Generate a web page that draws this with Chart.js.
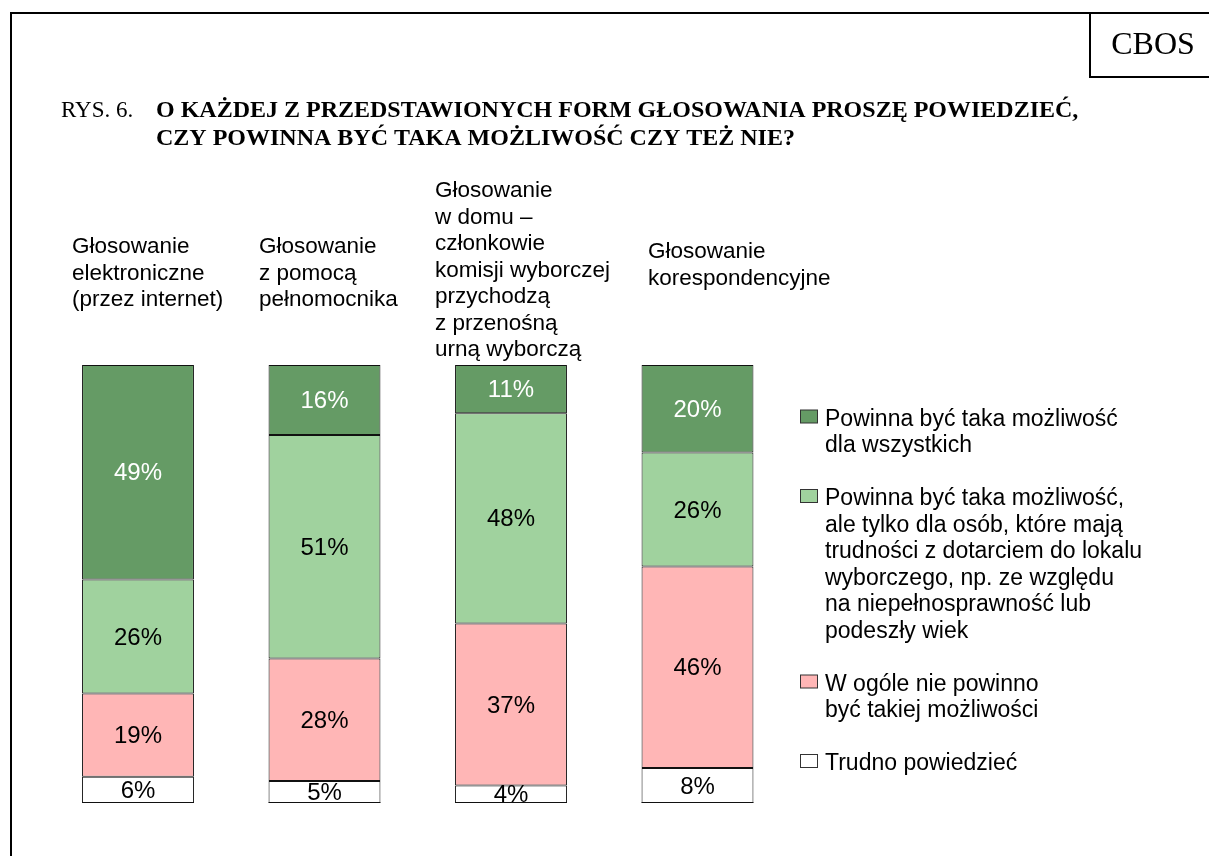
<!DOCTYPE html>
<html lang="pl">
<head>
<meta charset="utf-8">
<title>RYS. 6.</title>
<script src="https://cdn.jsdelivr.net/npm/chart.js@4.4.1/dist/chart.umd.min.js"></script>
<style>
    html, body { margin: 0; padding: 0; background: #fff; }
    #wrap { width: 1209px; height: 856px; }
</style>
</head>
<body>
<div id="wrap"><canvas id="chart" width="1209" height="856"></canvas></div>
<script>
// categories (each label broken into lines, as in the figure)
const categories = [
    ['Głosowanie', 'elektroniczne', '(przez internet)'],
    ['Głosowanie', 'z pomocą', 'pełnomocnika'],
    ['Głosowanie', 'w domu –', 'członkowie', 'komisji wyborczej', 'przychodzą', 'z przenośną', 'urną wyborczą'],
    ['Głosowanie', 'korespondencyjne']
];

// series values, bottom of the stack first
const trudnoPowiedziec = [6, 5, 4, 8];
const wOgoleNie = [19, 28, 37, 46];
const tylkoDlaOsob = [26, 51, 48, 26];
const dlaWszystkich = [49, 16, 11, 20];

const legendTexts = {
    trudno: ['Trudno powiedzieć'],
    nie: ['W ogóle nie powinno', 'być takiej możliwości'],
    tylko: ['Powinna być taka możliwość,', 'ale tylko dla osób, które mają', 'trudności z dotarciem do lokalu', 'wyborczego, np. ze względu', 'na niepełnosprawność lub', 'podeszły wiek'],
    wszyscy: ['Powinna być taka możliwość', 'dla wszystkich']
};

const titleLabel = 'RYS. 6.';
const titleLines = [
    'O KAŻDEJ Z PRZEDSTAWIONYCH FORM GŁOSOWANIA PROSZĘ POWIEDZIEĆ,',
    'CZY POWINNA BYĆ TAKA MOŻLIWOŚĆ CZY TEŻ NIE?'
];
const sourceLabel = 'CBOS';

const SANS = '"Liberation Sans", Arial, sans-serif';
const SERIF = '"Liberation Serif", "Times New Roman", serif';

// where each category caption sits (left x, first baseline)
const captionPos = [[72, 253], [259, 253], [435, 197], [648, 258]];

const framePlugin = {
    id: 'frame',
    beforeDraw(chart) {
        const ctx = chart.ctx;
        ctx.save();
        ctx.fillStyle = '#fff';
        ctx.fillRect(0, 0, chart.width, chart.height);
        ctx.strokeStyle = '#000';
        ctx.lineWidth = 2;
        ctx.beginPath();
        ctx.moveTo(11, chart.height);
        ctx.lineTo(11, 13);
        ctx.lineTo(chart.width, 13);
        ctx.moveTo(1090, 13);
        ctx.lineTo(1090, 77);
        ctx.lineTo(chart.width, 77);
        ctx.stroke();

        ctx.fillStyle = '#000';
        ctx.textBaseline = 'alphabetic';
        ctx.textAlign = 'center';
        ctx.font = '32px ' + SERIF;
        ctx.fillText(sourceLabel, 1153, 54);

        ctx.textAlign = 'left';
        ctx.font = '23px ' + SERIF;
        ctx.fillText(titleLabel, 61, 117);
        ctx.font = 'bold 24px ' + SERIF;
        titleLines.forEach((line, i) => ctx.fillText(line, 156, 117 + i * 28));

        ctx.font = '22.5px ' + SANS;
        categories.forEach((lines, i) => {
            const [x, y] = captionPos[i];
            lines.forEach((line, j) => ctx.fillText(line, x, y + j * 26.5));
        });
        ctx.restore();
    }
};

const valueLabelPlugin = {
    id: 'valueLabels',
    afterDatasetsDraw(chart) {
        const ctx = chart.ctx;
        const area = chart.chartArea;
        ctx.save();
        ctx.beginPath();
        ctx.rect(area.left, area.top, area.right - area.left, area.bottom - area.top);
        ctx.clip();
        ctx.font = '24px ' + SANS;
        ctx.textAlign = 'center';
        ctx.textBaseline = 'middle';
        chart.data.datasets.forEach((ds, di) => {
            const meta = chart.getDatasetMeta(di);
            meta.data.forEach((bar, i) => {
                ctx.fillStyle = ds.labelColor;
                ctx.fillText(ds.data[i] + '%', bar.x, (bar.y + bar.base) / 2 + 1.5);
            });
        });
        ctx.restore();
        // redraw the bottom edge over the clipped text
        ctx.save();
        ctx.strokeStyle = '#111';
        ctx.lineWidth = 1;
        chart.getDatasetMeta(0).data.forEach(bar => {
            ctx.beginPath();
            ctx.moveTo(bar.x - bar.width / 2, Math.round(bar.base) - 0.5);
            ctx.lineTo(bar.x + bar.width / 2, Math.round(bar.base) - 0.5);
            ctx.stroke();
        });
        ctx.restore();
    }
};

const sideLegendPlugin = {
    id: 'sideLegend',
    afterDraw(chart) {
        const ctx = chart.ctx;
        const items = chart.data.datasets.slice().reverse();
        let y = 425.5;
        ctx.save();
        ctx.font = '23px ' + SANS;
        ctx.textAlign = 'left';
        ctx.textBaseline = 'alphabetic';
        items.forEach(ds => {
            ctx.fillStyle = ds.backgroundColor;
            ctx.fillRect(800.5, y - 15.5, 17, 13);
            ctx.strokeStyle = '#333';
            ctx.lineWidth = 1;
            ctx.strokeRect(800.5, y - 15.5, 17, 13);
            ctx.fillStyle = '#000';
            ds.legendLines.forEach((line, j) => ctx.fillText(line, 825, y + j * 26.5));
            y += (ds.legendLines.length - 1) * 26.5 + 53;
        });
        ctx.restore();
    }
};

function makeDataset(label, data, color, legendLines, labelColor) {
    return {
        label: label,
        data: data,
        backgroundColor: color,
        borderColor: '#111',
        borderWidth: 1,
        borderSkipped: false,
        legendLines: legendLines,
        labelColor: labelColor
    };
}

new Chart(document.getElementById('chart'), {
    type: 'bar',
    data: {
        labels: categories.map(c => c.join(' ')),
        datasets: [
            makeDataset('Trudno powiedzieć', trudnoPowiedziec, '#ffffff', legendTexts.trudno, '#000'),
            makeDataset('W ogóle nie powinno być takiej możliwości', wOgoleNie, '#ffb6b6', legendTexts.nie, '#000'),
            makeDataset('Powinna być taka możliwość, ale tylko dla osób...', tylkoDlaOsob, '#a0d29e', legendTexts.tylko, '#000'),
            makeDataset('Powinna być taka możliwość dla wszystkich', dlaWszystkich, '#659b65', legendTexts.wszyscy, '#fff')
        ]
    },
    options: {
        responsive: false,
        animation: false,
        layout: { padding: { top: 365, bottom: 53, left: 44.75, right: 418.25 } },
        datasets: { bar: { categoryPercentage: 1, barPercentage: 0.6 } },
        scales: {
            x: { stacked: true, display: false },
            y: { stacked: true, display: false, min: 0, max: 100 }
        },
        plugins: {
            legend: { display: false },
            tooltip: { enabled: false }
        }
    },
    plugins: [framePlugin, valueLabelPlugin, sideLegendPlugin]
});
</script>
</body>
</html>
